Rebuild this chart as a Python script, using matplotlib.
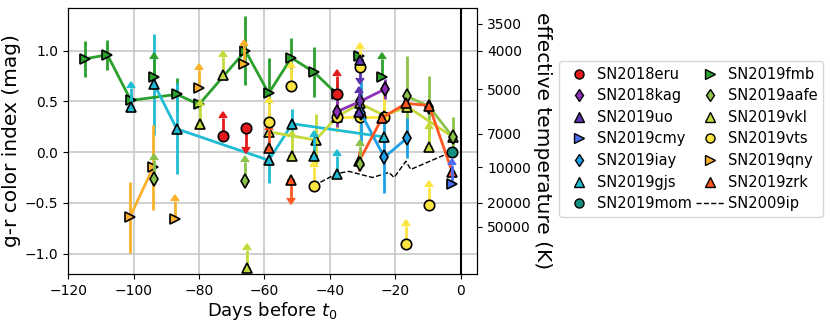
import matplotlib
matplotlib.use('Agg')
from matplotlib import pyplot as plt
from matplotlib.lines import Line2D

# ---------------- data: days before t0 / g-r colour ----------------
# detections (joined by a line) : x, y, err ; limits: lo = lower limit, up = upper limit
eru_lo_x, eru_lo_y = [-72.6, -37.8], [0.16, 0.57]
eru_up_x, eru_up_y = [-65.5], [0.235]

kag_x, kag_y, kag_e = [-37.8, -30.8, -23.3], [0.40, 0.50, 0.62], [0.15, 0.12, 0.10]

uo_lo_x, uo_lo_y = [-31.0], [0.40]
uo_up_x, uo_up_y = [-30.8], [0.91]

cmy_lo_x, cmy_lo_y = [-2.6], [-0.31]

iay_x, iay_y, iay_e = [-30.6, -23.4, -16.4], [0.39, -0.05, 0.14], [0.30, 0.35, 0.20]

gjs_x = [-93.7, -86.8, -58.7, -51.5, -23.4]
gjs_y = [0.67, 0.23, -0.08, 0.28, 0.15]
gjs_e = [0.50, 0.45, 0.22, 0.15, 0.10]
gjs_lo_x, gjs_lo_y = [-100.8, -44.9, -37.8], [0.45, -0.035, -0.215]

mom_x, mom_y, mom_e = [-2.6], [0.0], [0.05]

fmb_x = [-114.9, -108.0, -100.8, -86.8, -80.0, -65.8, -58.7, -51.8, -44.9, -37.8]
fmb_y = [0.92, 0.96, 0.51, 0.57, 0.47, 1.00, 0.58, 0.93, 0.79, 0.57]
fmb_e = [0.18, 0.15, 0.05, 0.16, 0.03, 0.34, 0.35, 0.20, 0.25, 0.10]
fmb_lo_x, fmb_lo_y = [-93.8, -24.0], [0.74, 0.74]
fmb_pt_x, fmb_pt_y = [-31.0], [0.95]

aafe_x, aafe_y, aafe_e = [-16.4, -9.7, -2.5], [0.55, 0.45, 0.15], [0.40, 0.30, 0.20]
aafe_lo_x, aafe_lo_y = [-93.7, -65.8, -30.9], [-0.26, -0.28, -0.12]

vkl_x = [-58.7, -44.4, -37.8, -30.8, -23.4, -16.4, -2.5]
vkl_y = [0.20, 0.12, 0.35, 0.48, 0.36, 0.45, 0.15]
vkl_e = [0.05, 0.26, 0.10, 0.15, 0.20, 0.10, 0.10]
vkl_lo_x, vkl_lo_y = [-79.7, -72.8, -65.3, -51.6, -9.7], [0.28, 0.76, -1.14, -0.035, 0.05]

vts_x, vts_y, vts_e = [-37.8, -30.8, -23.4], [0.35, 0.35, 0.35], [0.15, 0.20, 0.20]
vts_lo_x = [-58.7, -51.8, -44.9, -30.8, -16.8, -9.7]
vts_lo_y = [0.30, 0.65, -0.33, 0.84, -0.91, -0.52]

qny_x, qny_y, qny_e = [-101.1, -94.0], [-0.64, -0.15], [0.35, 0.42]
qny_lo_x, qny_lo_y = [-87.3, -80.0, -66.3], [-0.66, 0.63, 0.87]

zrk_x = [-31.1, -24.0, -16.8, -9.7, -2.6]
zrk_y = [-0.09, 0.34, 0.48, 0.46, -0.20]
zrk_e = [0.10, 0.05, 0.05, 0.05, 0.05]
zrk_lo_x, zrk_lo_y = [-58.7], [0.04]
zrk_up_x, zrk_up_y = [-51.8], [-0.27]

ip_x = [-44.9, -37.8, -34.2, -27.0, -22.0, -20.4, -16.8, -15.3, -3.0, -1.0]
ip_y = [-0.33, -0.21, -0.19, -0.25, -0.20, -0.25, -0.09, -0.17, 0.0, 0.02]

# effective temperature axis
temp_pos = [1.265, 1.0, 0.62, 0.18, -0.15, -0.50, -0.735]
temp_lab = ['3500', '4000', '5000', '7000', '10000', '20000', '50000']

#%%
fig = plt.figure(figsize=(8.3, 3.26), dpi=100)
ax = fig.add_axes([0.082, 0.16, 0.493, 0.815])

ms = 7.5
L = 0.18  # arrow length for limits

def det(x, y, e, c, m):
    ax.errorbar(x, y, yerr=e, fmt='-', marker=m, color=c, lw=2, elinewidth=2,
                ms=ms, mec='k', mew=1.2, zorder=3)

def lim(x, y, c, m, up=False):
    ax.errorbar(x, y, yerr=L, lolims=not up, uplims=up, fmt=m, color=c,
                elinewidth=2, capsize=3, ms=ms, mec='k', mew=1.2, zorder=4)

c_eru, c_kag, c_uo, c_cmy = '#e41a1c', '#9030b8', '#5e35b1', '#4a6cf0'
c_iay, c_gjs, c_mom, c_fmb = '#1ea0e8', '#20bcd4', '#138f7f', '#2ca02c'
c_aafe, c_vkl, c_vts, c_qny, c_zrk = '#8bc34a', '#c6d93b', '#fde541', '#fbb12c', '#ff5722'

det(fmb_x, fmb_y, fmb_e, c_fmb, '>')
lim(fmb_lo_x, fmb_lo_y, c_fmb, '>')
ax.plot(fmb_pt_x, fmb_pt_y, ls='none', marker='>', color=c_fmb, ms=ms, mec='k', mew=1.2, zorder=4)
det(gjs_x, gjs_y, gjs_e, c_gjs, '^')
lim(gjs_lo_x, gjs_lo_y, c_gjs, '^')
det(qny_x, qny_y, qny_e, c_qny, '>')
lim(qny_lo_x, qny_lo_y, c_qny, '>')
lim(aafe_lo_x, aafe_lo_y, c_aafe, 'd')
det(vkl_x, vkl_y, vkl_e, c_vkl, '^')
lim(vkl_lo_x, vkl_lo_y, c_vkl, '^')
det(vts_x, vts_y, vts_e, c_vts, 'o')
lim(vts_lo_x, vts_lo_y, c_vts, 'o')
det(aafe_x, aafe_y, aafe_e, c_aafe, 'd')
det(iay_x, iay_y, iay_e, c_iay, 'd')
det(kag_x, kag_y, kag_e, c_kag, 'd')
lim(uo_lo_x, uo_lo_y, c_uo, '^')
lim(uo_up_x, uo_up_y, c_uo, '^', up=True)
det(zrk_x, zrk_y, zrk_e, c_zrk, '^')
lim(zrk_lo_x, zrk_lo_y, c_zrk, '^')
lim(zrk_up_x, zrk_up_y, c_zrk, '^', up=True)
lim(eru_lo_x, eru_lo_y, c_eru, 'o')
lim(eru_up_x, eru_up_y, c_eru, 'o', up=True)
lim(cmy_lo_x, cmy_lo_y, c_cmy, '>')
det(mom_x, mom_y, mom_e, c_mom, 'o')
ax.plot(ip_x, ip_y, '--', color='k', lw=1, zorder=2)

ax.axvline(0, color='k', lw=1.5, zorder=2)
ax.set_xlim(-120, 5)
ax.set_ylim(-1.2, 1.42)
ax.set_xticks(range(-120, 1, 20))
ax.set_yticks([-1.0, -0.5, 0.0, 0.5, 1.0])
ax.grid(True, color='#c8c8c8', lw=1.2, zorder=0)
ax.set_axisbelow(True)
ax.tick_params(labelsize=10)
ax.set_xlabel('Days before $t_0$', fontsize=13, labelpad=2)
ax.set_ylabel('g-r color index (mag)', fontsize=14.5, labelpad=3)

ax2 = ax.twinx()
ax2.set_ylim(ax.get_ylim())
ax2.set_yticks(temp_pos)
ax2.set_yticklabels(temp_lab)
ax2.tick_params(labelsize=10)
ax2.set_ylabel('effective temperature (K)', fontsize=14.5, rotation=270, labelpad=15)

# legend
lms = 6.5
handles = [
    Line2D([], [], ls='none', marker='o', color=c_eru, mec='k', ms=lms),
    Line2D([], [], ls='none', marker='d', color=c_kag, mec='k', ms=lms),
    Line2D([], [], ls='none', marker='^', color=c_uo, mec='k', ms=lms),
    Line2D([], [], ls='none', marker='>', color=c_cmy, mec='k', ms=lms),
    Line2D([], [], ls='none', marker='d', color=c_iay, mec='k', ms=lms),
    Line2D([], [], ls='none', marker='^', color=c_gjs, mec='k', ms=lms),
    Line2D([], [], ls='none', marker='o', color=c_mom, mec='k', ms=lms),
    Line2D([], [], ls='none', marker='>', color=c_fmb, mec='k', ms=lms),
    Line2D([], [], ls='none', marker='d', color=c_aafe, mec='k', ms=lms),
    Line2D([], [], ls='none', marker='^', color=c_vkl, mec='k', ms=lms),
    Line2D([], [], ls='none', marker='o', color=c_vts, mec='k', ms=lms),
    Line2D([], [], ls='none', marker='>', color=c_qny, mec='k', ms=lms),
    Line2D([], [], ls='none', marker='^', color=c_zrk, mec='k', ms=lms),
    Line2D([], [], ls='--', color='k', lw=1),
]
labels = ['SN2018eru', 'SN2018kag', 'SN2019uo', 'SN2019cmy', 'SN2019iay', 'SN2019gjs',
          'SN2019mom', 'SN2019fmb', 'SN2019aafe', 'SN2019vkl', 'SN2019vts', 'SN2019qny',
          'SN2019zrk', 'SN2009ip']
fig.legend(handles, labels, ncol=2, loc='upper left', bbox_to_anchor=(0.673, 0.813),
           borderaxespad=0, fontsize=10.5, columnspacing=0.3, handletextpad=0.2,
           labelspacing=0.45)

fig.savefig('out.png', dpi=100)
